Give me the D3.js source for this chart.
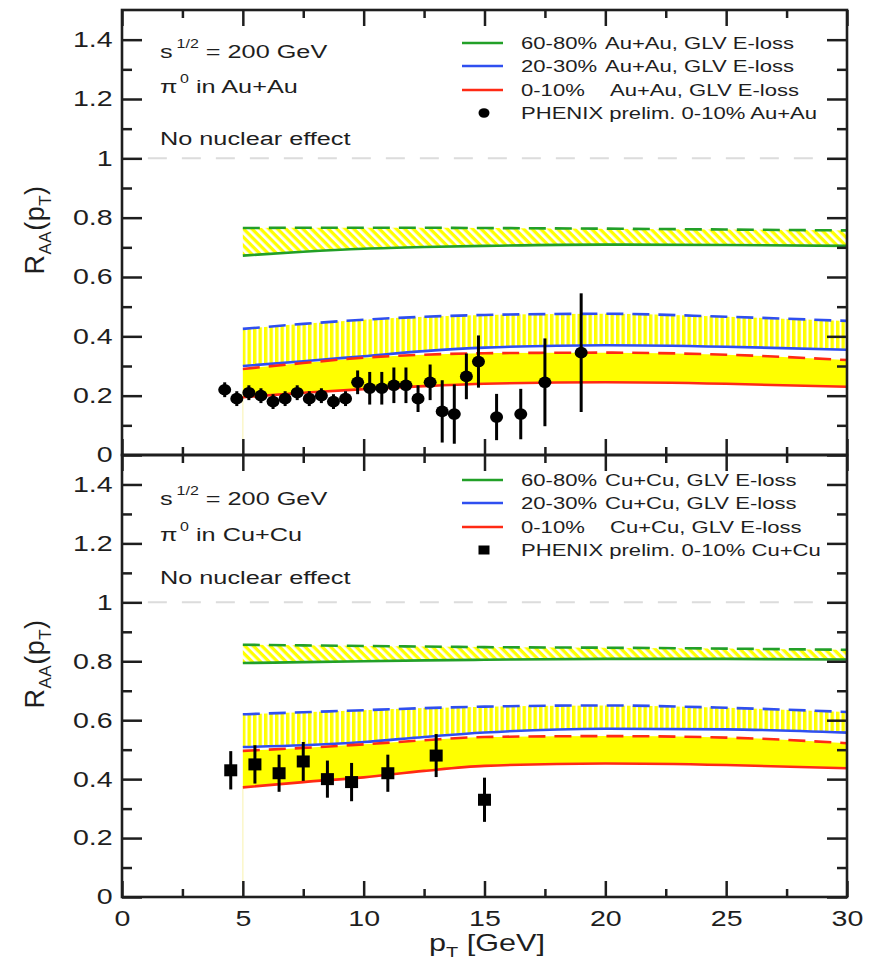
<!DOCTYPE html>
<html>
<head>
<meta charset="utf-8">
<script src="https://cdn.jsdelivr.net/npm/d3@7"></script>
<style>
  body { margin: 0; background: #fff; }
  svg text { font-family: "Liberation Sans", Arial, Helvetica, sans-serif; fill: #1e1e1e; }
</style>
</head>
<body>
<svg id="chart" width="878" height="964"></svg>
<script>
// ---- p_T grid on which the GLV energy-loss bands are tabulated ----
const bandPt = [5, 7.5, 10, 12.5, 15, 20, 25, 30];

// ---- Au+Au, sqrt(s)=200 GeV: GLV E-loss bands (upper = dashed, lower = solid) ----
const auPeriphUpper = [0.765, 0.766, 0.766, 0.766, 0.765, 0.763, 0.760, 0.757]; // 60-80%
const auPeriphLower = [0.672, 0.685, 0.695, 0.701, 0.705, 0.709, 0.708, 0.705];
const auMidUpper    = [0.425, 0.442, 0.456, 0.466, 0.472, 0.476, 0.466, 0.452]; // 20-30%
const auMidLower    = [0.300, 0.316, 0.333, 0.350, 0.362, 0.370, 0.365, 0.355];
const auCentUpper   = [0.290, 0.310, 0.328, 0.338, 0.343, 0.345, 0.338, 0.320]; // 0-10%
const auCentLower   = [0.195, 0.210, 0.222, 0.232, 0.240, 0.245, 0.240, 0.230];

// ---- Cu+Cu, sqrt(s)=200 GeV: GLV E-loss bands ----
const cuPeriphUpper = [0.856, 0.854, 0.852, 0.850, 0.848, 0.846, 0.843, 0.839]; // 60-80%
const cuPeriphLower = [0.794, 0.797, 0.800, 0.803, 0.805, 0.808, 0.808, 0.806];
const cuMidUpper    = [0.620, 0.627, 0.634, 0.641, 0.646, 0.650, 0.642, 0.628]; // 20-30%
const cuMidLower    = [0.509, 0.515, 0.526, 0.543, 0.558, 0.571, 0.569, 0.558];
const cuCentUpper   = [0.496, 0.506, 0.518, 0.532, 0.543, 0.546, 0.541, 0.522]; // 0-10%
const cuCentLower   = [0.372, 0.390, 0.406, 0.428, 0.445, 0.453, 0.448, 0.437];

// ---- PHENIX preliminary pi0 R_AA, 0-10% Au+Au ----
const auDataPt  = [4.25, 4.75, 5.25, 5.75, 6.25, 6.75, 7.25, 7.75, 8.25, 8.75, 9.25, 9.75,
                   10.25, 10.75, 11.25, 11.75, 12.25, 12.75, 13.25, 13.75, 14.25, 14.75,
                   15.5, 16.5, 17.5, 19.0];
const auDataRaa = [0.22, 0.19, 0.21, 0.20, 0.18, 0.19, 0.21, 0.19, 0.20, 0.18, 0.19, 0.245,
                   0.225, 0.225, 0.235, 0.235, 0.19, 0.245, 0.147, 0.138, 0.265, 0.315,
                   0.128, 0.138, 0.245, 0.345];
const auDataErr = [0.025, 0.025, 0.025, 0.025, 0.025, 0.025, 0.025, 0.025, 0.025, 0.025, 0.025, 0.04,
                   0.055, 0.055, 0.06, 0.06, 0.045, 0.06, 0.105, 0.10, 0.077, 0.088,
                   0.078, 0.085, 0.148, 0.20];

// ---- PHENIX preliminary pi0 R_AA, 0-10% Cu+Cu ----
const cuDataPt  = [4.5, 5.5, 6.5, 7.5, 8.5, 9.5, 11, 13, 15];
const cuDataRaa = [0.43, 0.45, 0.42, 0.46, 0.40, 0.39, 0.42, 0.48, 0.33];
const cuDataErr = [0.065, 0.065, 0.063, 0.066, 0.063, 0.065, 0.063, 0.073, 0.075];

// ---- axis ticks ----
const xMajorTicks = [0, 5, 10, 15, 20, 25, 30];
const xMinorTicks = [2.5, 7.5, 12.5, 17.5, 22.5, 27.5];
const yMajorTicks = [0, 0.2, 0.4, 0.6, 0.8, 1.0, 1.2, 1.4];
const yMinorTicks = [0.1, 0.3, 0.5, 0.7, 0.9, 1.1, 1.3];

const COL = { green: "#22a028", blue: "#2f4ff0", red: "#ff2a14", yellow: "#ffff00", ink: "#1e1e1e" };
const SX = 1.33;               // horizontal stretch of the lettering
const FONT = '"Liberation Sans", Arial, Helvetica, sans-serif';

const svg = d3.select("#chart");
const defs = svg.append("defs");

// hatch: diagonal yellow stripes (peripheral band)
const diag = defs.append("pattern").attr("id", "hatchDiag")
  .attr("patternUnits", "userSpaceOnUse").attr("width", 6).attr("height", 6)
  .attr("patternTransform", "rotate(45)");
diag.append("rect").attr("x", 0).attr("y", 0).attr("width", 6).attr("height", 3.3).attr("fill", COL.yellow);

// hatch: vertical yellow stripes (mid-central band)
const vert = defs.append("pattern").attr("id", "hatchVert")
  .attr("patternUnits", "userSpaceOnUse").attr("width", 5.5).attr("height", 10);
vert.append("rect").attr("x", 0).attr("y", 0).attr("width", 3.4).attr("height", 10).attr("fill", COL.yellow);

const x = d3.scaleLinear().domain([0, 30]).range([122, 847]);

const panels = [
  {
    id: "au", top: 10, bottom: 455, system: "Au+Au", titleY: 230,
    textY: [58, 93, 145], legendY: [43, 66, 90, 113], marker: "circle",
    bands: [
      { up: auPeriphUpper, lo: auPeriphLower, color: COL.green, fill: "url(#hatchDiag)" },
      { up: auMidUpper,    lo: auMidLower,    color: COL.blue,  fill: "url(#hatchVert)" },
      { up: auCentUpper,   lo: auCentLower,   color: COL.red,   fill: COL.yellow }
    ],
    data: { pt: auDataPt, raa: auDataRaa, err: auDataErr }
  },
  {
    id: "cu", top: 455, bottom: 897, system: "Cu+Cu", titleY: 664,
    textY: [505, 541, 584], legendY: [480, 503, 527, 550], marker: "square",
    bands: [
      { up: cuPeriphUpper, lo: cuPeriphLower, color: COL.green, fill: "url(#hatchDiag)" },
      { up: cuMidUpper,    lo: cuMidLower,    color: COL.blue,  fill: "url(#hatchVert)" },
      { up: cuCentUpper,   lo: cuCentLower,   color: COL.red,   fill: COL.yellow }
    ],
    data: { pt: cuDataPt, raa: cuDataRaa, err: cuDataErr }
  }
];

// stretched text helper
function stext(parent, px, py, size, anchor) {
  return parent.append("text")
    .attr("transform", `translate(${px},${py}) scale(${SX},1)`)
    .attr("font-size", size)
    .attr("text-anchor", anchor || "start");
}

panels.forEach((p, pi) => {
  const y = d3.scaleLinear().domain([0, 1.5]).range([p.bottom, p.top]);
  const g = svg.append("g").attr("class", "panel-" + p.id);

  defs.append("clipPath").attr("id", "clip-" + p.id)
    .append("rect").attr("x", x(0)).attr("y", p.top).attr("width", x(30) - x(0)).attr("height", p.bottom - p.top);
  const plot = g.append("g").attr("clip-path", `url(#clip-${p.id})`);

  // reference line: no nuclear effect
  plot.append("line")
    .attr("x1", x(1.07)).attr("x2", x(30)).attr("y1", y(1)).attr("y2", y(1))
    .attr("stroke", "#dcdcdc").attr("stroke-width", 2).attr("stroke-dasharray", "19 15");

  const rows = bandPt.map((pt, i) => i);
  const area = (b) => d3.area().curve(d3.curveMonotoneX)
    .x(i => x(bandPt[i])).y0(i => y(b.lo[i])).y1(i => y(b.up[i]));
  const line = (arr) => d3.line().curve(d3.curveMonotoneX)
    .x(i => x(bandPt[i])).y(i => y(arr[i]));

  // faint edge of the central band down to the axis
  plot.append("line")
    .attr("x1", x(5)).attr("x2", x(5))
    .attr("y1", y(0)).attr("y2", y(p.bands[2].lo[0]))
    .attr("stroke", "#fbf7c8").attr("stroke-width", 1.5);

  p.bands.forEach(b => {
    plot.append("path").datum(rows).attr("d", area(b)).attr("fill", b.fill);
  });
  p.bands.forEach(b => {
    plot.append("path").datum(rows).attr("d", line(b.up))
      .attr("fill", "none").attr("stroke", b.color).attr("stroke-width", 2.6)
      .attr("stroke-dasharray", "17 9");
    plot.append("path").datum(rows).attr("d", line(b.lo))
      .attr("fill", "none").attr("stroke", b.color).attr("stroke-width", 2.6);
  });

  // data points
  const pts = p.data.pt.map((pt, i) => ({ pt, v: p.data.raa[i], e: p.data.err[i] }));
  const dg = plot.append("g");
  dg.selectAll("line.err").data(pts).join("line").attr("class", "err")
    .attr("x1", d => x(d.pt)).attr("x2", d => x(d.pt))
    .attr("y1", d => y(d.v - d.e)).attr("y2", d => y(d.v + d.e))
    .attr("stroke", "#000").attr("stroke-width", 3);
  if (p.marker === "circle") {
    dg.selectAll("ellipse").data(pts).join("ellipse")
      .attr("cx", d => x(d.pt)).attr("cy", d => y(d.v))
      .attr("rx", 6.5).attr("ry", 5.8).attr("fill", "#000");
  } else {
    dg.selectAll("rect").data(pts).join("rect")
      .attr("x", d => x(d.pt) - 6.5).attr("y", d => y(d.v) - 6)
      .attr("width", 13).attr("height", 12).attr("fill", "#000");
  }

  // axes: inward ticks on all four sides
  const axG = g.append("g").attr("class", "axes");
  const tickStyle = sel => { sel.select(".domain").remove(); sel.selectAll("line").attr("stroke", COL.ink).attr("stroke-width", 2.5); };

  const yLeft = d3.axisLeft(y).tickValues(yMajorTicks).tickSizeInner(-20).tickSizeOuter(0).tickPadding(7)
    .tickFormat(d => (d === 0 ? "0" : d === 1 ? "1" : d3.format(".1f")(d)));
  const lg = axG.append("g").attr("transform", `translate(${x(0)},0)`).call(yLeft).call(tickStyle);
  lg.selectAll("text").attr("font-size", 21.5).attr("font-family", FONT).attr("fill", COL.ink)
    .attr("transform", `scale(${SX},1)`);
  axG.append("g").attr("transform", `translate(${x(0)},0)`)
    .call(d3.axisLeft(y).tickValues(yMinorTicks).tickSizeInner(-10).tickSizeOuter(0).tickFormat(""))
    .call(tickStyle);
  axG.append("g").attr("transform", `translate(${x(30)},0)`)
    .call(d3.axisRight(y).tickValues(yMajorTicks).tickSizeInner(-20).tickSizeOuter(0).tickFormat(""))
    .call(tickStyle);
  axG.append("g").attr("transform", `translate(${x(30)},0)`)
    .call(d3.axisRight(y).tickValues(yMinorTicks).tickSizeInner(-10).tickSizeOuter(0).tickFormat(""))
    .call(tickStyle);

  const xb = axG.append("g").attr("transform", `translate(0,${p.bottom})`)
    .call(d3.axisBottom(x).tickValues(xMajorTicks).tickSizeInner(-16).tickSizeOuter(0).tickPadding(14)
      .tickFormat(pi === 1 ? d3.format("d") : ""))
    .call(tickStyle);
  xb.selectAll("text").attr("font-size", 21.5).attr("font-family", FONT).attr("fill", COL.ink)
    .attr("transform", `scale(${SX},1)`);
  axG.append("g").attr("transform", `translate(0,${p.bottom})`)
    .call(d3.axisBottom(x).tickValues(xMinorTicks).tickSizeInner(-8).tickSizeOuter(0).tickFormat(""))
    .call(tickStyle);
  axG.append("g").attr("transform", `translate(0,${p.top})`)
    .call(d3.axisTop(x).tickValues(xMajorTicks).tickSizeInner(-16).tickSizeOuter(0).tickFormat(""))
    .call(tickStyle);
  axG.append("g").attr("transform", `translate(0,${p.top})`)
    .call(d3.axisTop(x).tickValues(xMinorTicks).tickSizeInner(-8).tickSizeOuter(0).tickFormat(""))
    .call(tickStyle);

  // frame
  axG.append("rect").attr("x", x(0)).attr("y", p.top).attr("width", x(30) - x(0)).attr("height", p.bottom - p.top)
    .attr("fill", "none").attr("stroke", COL.ink).attr("stroke-width", 2.6);

  // y-axis title R_AA(p_T)
  const yt = g.append("text")
    .attr("transform", `translate(44,${p.titleY}) rotate(-90)`)
    .attr("font-size", 27).attr("text-anchor", "middle").attr("letter-spacing", 0.5);
  yt.append("tspan").text("R");
  yt.append("tspan").attr("font-size", 17).attr("dy", 7).text("AA");
  yt.append("tspan").attr("dy", -7).text("(p");
  yt.append("tspan").attr("font-size", 17).attr("dy", 7).text("T");
  yt.append("tspan").attr("dy", -7).text(")");

  // annotations
  const t1 = stext(g, 160, p.textY[0], 19);
  t1.append("tspan").text("s");
  t1.append("tspan").attr("font-size", 12).attr("dy", -10).attr("dx", 3).text("1/2");
  t1.append("tspan").attr("dy", 10).text(" = 200 GeV");
  const t2 = stext(g, 160, p.textY[1], 19);
  t2.append("tspan").text("π");
  t2.append("tspan").attr("font-size", 12).attr("dy", -10).attr("dx", 2).text("0");
  t2.append("tspan").attr("dy", 10).text(" in " + p.system);
  stext(g, 160, p.textY[2], 19).text("No nuclear effect");

  // legend
  const lgd = g.append("g").attr("class", "legend");
  const entries = [
    { pre: "60-80%", color: COL.green },
    { pre: "20-30%", color: COL.blue },
    { pre: "0-10%",  color: COL.red }
  ];
  entries.forEach((e, i) => {
    const ly = p.legendY[i];
    lgd.append("line").attr("x1", 462).attr("x2", 503).attr("y1", ly).attr("y2", ly)
      .attr("stroke", e.color).attr("stroke-width", 2.4);
    stext(lgd, 521, ly + 6, 16.6).text(e.pre);
    stext(lgd, i === 2 ? 610 : 605, ly + 6, 16.6).text(`${p.system}, GLV E-loss`);
  });
  const my = p.legendY[3];
  if (p.marker === "circle") {
    lgd.append("ellipse").attr("cx", 484).attr("cy", my).attr("rx", 5.5).attr("ry", 4.8).attr("fill", "#000");
  } else {
    lgd.append("rect").attr("x", 478.5).attr("y", my - 4.5).attr("width", 11).attr("height", 9).attr("fill", "#000");
  }
  stext(lgd, 521, my + 6, 16.6).text(`PHENIX prelim. 0-10% ${p.system}`);
});

// x-axis title
const xt = stext(svg, 487, 951, 23, "middle");
xt.append("tspan").text("p");
xt.append("tspan").attr("font-size", 15).attr("dy", 6).text("T");
xt.append("tspan").attr("dy", -6).text(" [GeV]");
</script>
</body>
</html>
